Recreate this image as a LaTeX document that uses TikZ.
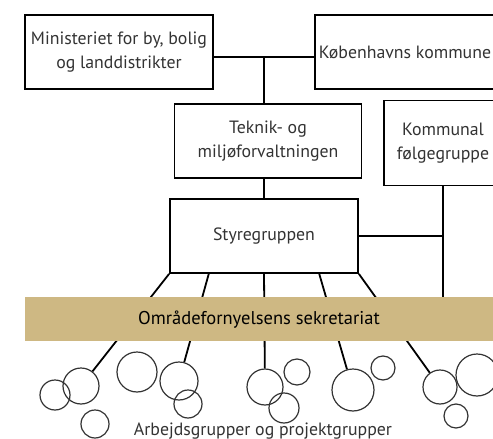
\documentclass[tikz,border=0pt]{standalone}
\usepackage{fontspec}
\setmainfont{PT Sans}
\usetikzlibrary{calc}
\definecolor{band}{HTML}{CEB883}
\definecolor{txt}{HTML}{333333}
\begin{document}
\begin{tikzpicture}[x=1pt,y=-1pt,
  orgbox/.style={draw=black,line width=1.8pt,rectangle,align=center,text=txt,
    font=\fontsize{17.8}{24}\selectfont,inner sep=0pt},
  conn/.style={line width=1.8pt,black},
  grp/.style={draw=txt,line width=1.2pt,circle,inner sep=0pt}]
\useasboundingbox (0,0) rectangle (493,439);
\clip (0,0) rectangle (493,439);
% boxes
\node[orgbox,minimum width=188pt,minimum height=74pt] (min) at (119,52) {Ministeriet for by, bolig\\og landdistrikter};
\node[orgbox,minimum width=200pt,minimum height=74pt] (kbh) at (415,52) {Københavns kommune\hspace{20pt}};
\node[orgbox,minimum width=187pt,minimum height=74pt] (tek) at (268,141) {Teknik- og\\miljøforvaltningen};
\node[orgbox,minimum width=118pt,minimum height=85pt] (kom) at (443,143) {Kommunal\\følgegruppe};
\node[orgbox,minimum width=188pt,minimum height=74pt] (sty) at (264,236) {Styregruppen};
% junctions
\coordinate (j1) at (264,57);
\draw[conn] (j1 -| min.east) -- (j1 -| kbh.west);
\draw[conn] (j1) -- (j1 |- tek.north);
\draw[conn] (sty.north) -- (sty.north |- tek.south);
% circles
\node[grp,minimum size=30pt] (c1) at (55,395) {};
\node[grp,minimum size=36pt] (c2) at (81,386) {};
\node[grp,minimum size=28pt] (c3) at (95,424) {};
\node[grp,minimum size=40pt] (c4) at (137,372) {};
\node[grp,minimum size=38pt] (c5) at (179,381) {};
\node[grp,minimum size=28pt] (c6) at (188,404) {};
\node[grp,minimum size=36pt] (c7) at (265,387) {};
\node[grp,minimum size=26pt] (c8) at (297,372) {};
\node[grp,minimum size=30pt] (c9) at (284,408) {};
\node[grp,minimum size=42pt] (c10) at (353,390) {};
\node[grp,minimum size=24pt] (c11) at (383,368) {};
\node[grp,minimum size=34pt] (c12) at (440,387) {};
\node[grp,minimum size=42pt] (c13) at (477,375) {};
\node[grp,minimum size=24pt] (c14) at (456,416) {};
% lines from Styregruppen
\coordinate (s2) at (209,273);
\coordinate (s4) at (319,273);
\draw[conn] (sty.south west) -- (c2);
\draw[conn] (s2) -- (c5);
\draw[conn] (sty.south) -- (c7);
\draw[conn] (s4) -- (c10);
\draw[conn] (sty.south east) -- (c12);
% Kommunal line
\coordinate (kb) at (443,297);
\draw[conn] (kom.south) -- (kb);
\draw[conn] (sty.east) -- (sty.east -| kom.south);
% band
\node[fill=band,minimum width=500pt,minimum height=44pt,anchor=north west,inner sep=0pt] (sek) at (25,297) {};
\node[font=\fontsize{18.5}{20}\selectfont,text=black] (sektxt) at (259,320) {Områdefornyelsens sekretariat};
% caption
\node[font=\fontsize{17.8}{20}\selectfont,text=txt,anchor=base] (arb) at (263,435) {Arbejdsgrupper og projektgrupper};
\end{tikzpicture}
\end{document}
